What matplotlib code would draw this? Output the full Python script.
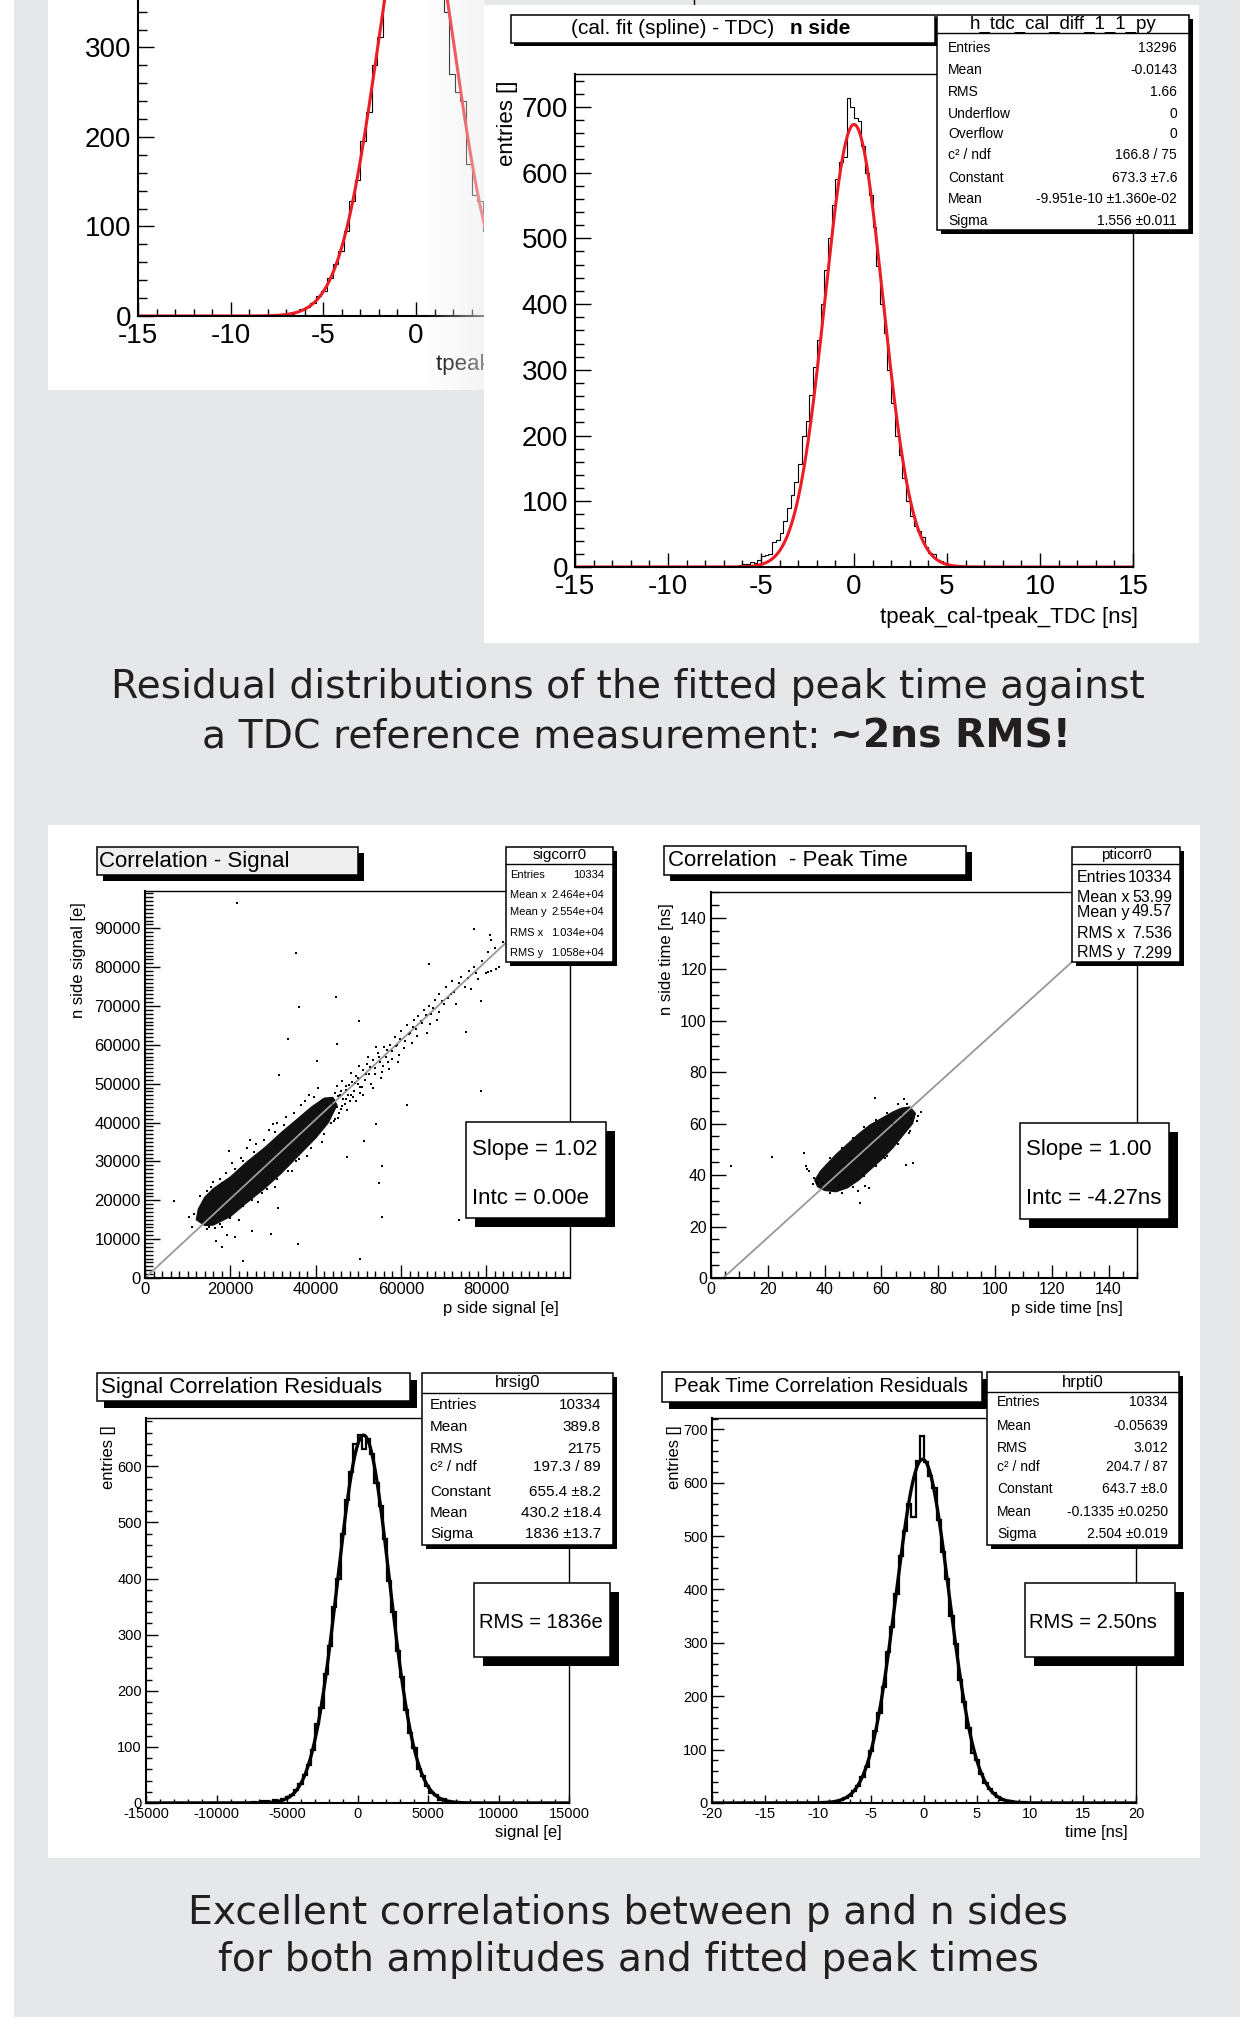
import numpy as np
import matplotlib
matplotlib.use("Agg")
import matplotlib.pyplot as plt
from matplotlib.patches import Rectangle
from matplotlib.ticker import MultipleLocator, FormatStrFormatter

W, H = 1250, 2034
GREY = "#e6e7e8"
INK = "#231f20"
RED = "#ec1c24"

plt.rcParams["font.family"] = ["Liberation Sans", "DejaVu Sans"]
plt.rcParams["axes.unicode_minus"] = False

# ---------------------------------------------------------------- data ---
# p side tpeak residual (mostly hidden behind the n side panel)
p_side_lo, p_side_bw = -7.5, 0.3
p_side_counts = [1, 2, 2, 5, 8, 10, 14, 22, 28, 42, 58, 73, 95, 128, 152,
                 195, 228, 280, 312, 365, 400, 440, 470, 490, 500, 488, 470,
                 440, 400, 370, 340, 270, 250, 240, 170, 135, 128, 95]
p_side_fit = (492.0, 0.0, 2.08)          # constant, mean, sigma (box hidden)

# n side: (cal. fit (spline) - TDC)
tdc_lo, tdc_bw = -7.0, 0.2
tdc_counts = [0, 1, 2, 1, 3, 5, 4, 7, 6, 10,
              16, 18, 20, 38, 41, 52, 70, 90, 110, 130,
              156, 200, 222, 262, 305, 345, 400, 452, 500, 550,
              590, 616, 624, 713, 700, 683, 678, 640, 600, 566,
              517, 458, 400, 356, 300, 250, 200, 170, 135, 100,
              78, 62, 55, 45, 30, 22, 20, 11, 9, 4,
              3, 2, 1, 1, 0, 1, 0, 0, 0, 0]
tdc_fit = (673.3, -9.951e-10, 1.556)
tdc_stats = [("Entries", "13296"), ("Mean", "-0.0143"), ("RMS", "1.66"),
             ("Underflow", "0"), ("Overflow", "0"), ("c² / ndf", "166.8 / 75"),
             ("Constant", "673.3 ±7.6"), ("Mean", "-9.951e-10 ±1.360e-02"),
             ("Sigma", "1.556 ±0.011")]

# signal correlation (values in 1000 e)
sig_core_x = [12.0, 12.5, 14.0, 16.0, 20.0, 24.0, 28.0, 32.0, 36.0, 39.0, 42.0,
              44.0, 45.0, 43.0, 40.0, 36.0, 32.0, 28.0, 24.0, 20.0, 16.0, 14.0]
sig_core_y = [15.0, 17.8, 20.8, 23.0, 26.0, 30.0, 33.5, 37.5, 41.2, 44.0, 46.3,
              46.5, 44.5, 40.0, 36.0, 31.5, 27.0, 23.0, 19.5, 15.8, 13.6, 13.5]
sig_fringe = [(13.0, 21.0), (15.5, 23.5), (11.5, 16.5), (18.0, 13.2), (22.0, 14.8),
              (26.5, 19.5), (30.5, 23.5), (34.5, 27.5), (38.0, 31.5), (41.5, 35.0),
              (19.0, 27.0), (22.5, 31.0), (26.0, 34.5), (29.0, 38.0), (33.0, 41.5),
              (36.5, 44.5), (38.5, 47.0), (46.0, 43.5), (45.0, 49.5), (47.0, 46.0),
              (16.5, 12.8), (14.5, 12.5), (24.0, 33.5), (27.5, 22.0), (35.5, 30.0),
              (40.5, 49.0), (43.5, 40.0), (31.0, 40.0), (20.5, 29.5), (17.5, 25.5),
              (14.5, 22.5), (16.0, 24.8), (18.0, 24.5), (21.0, 28.0), (23.0, 30.0),
              (25.5, 32.5), (28.0, 35.5), (30.5, 37.5), (32.5, 39.5), (35.0, 42.5),
              (37.5, 45.5), (39.5, 46.5), (15.0, 13.0), (17.5, 14.0), (20.0, 15.5),
              (23.0, 18.5), (25.0, 20.0), (28.5, 23.0), (31.0, 25.5), (33.5, 27.5),
              (36.0, 30.5), (39.0, 33.5), (42.0, 37.0), (44.5, 41.0), (41.5, 45.5),
              (42.5, 42.0), (43.8, 44.8), (44.2, 40.5), (45.3, 46.8), (46.2, 44.2),
              (47.2, 48.3), (48.3, 47.2), (49.2, 50.2), (50.3, 49.1)]
sig_band = [(41, 43), (42, 40), (42.5, 44.5), (43, 41.5), (43.5, 46), (44, 43),
            (44.5, 47.5), (45, 44), (45.5, 42.5), (46, 48), (46.5, 46), (47, 49.5),
            (47.5, 47), (48, 45.5), (48.5, 50.5), (49, 48), (49.5, 52), (50, 50),
            (50.5, 47.5), (51, 53.5), (51.5, 51), (52, 55), (52.5, 52.5), (53, 50),
            (53.5, 56), (54, 54), (54.5, 58), (55, 55.5), (55.5, 53), (56, 59.5),
            (56.5, 57), (57, 55.5), (57.5, 60), (58, 58.5), (58.5, 62), (59, 60),
            (59.5, 57.5), (60, 63.5), (61, 61), (61.5, 65), (62, 63), (62.5, 60.5),
            (63, 66.5), (63.5, 64), (64, 67.5), (65, 65.5), (65.5, 69), (66, 63),
            (66.5, 70), (67, 68), (68, 71.5), (68.5, 66.5), (69, 73), (70, 70.5),
            (70.5, 75), (71, 72), (72, 76.5), (72.5, 73.5), (73, 70.5), (74, 77.5),
            (75, 75), (76, 79), (76.5, 74.5), (77, 80), (78, 77), (79, 81.5),
            (80, 78.5), (80.5, 84), (81, 87), (82, 85), (83, 80), (84, 86.5),
            (85, 84), (80.3, 78.7), (81.1, 78.9), (82.3, 79.4),
            (44.2, 45.8), (45.8, 47.2), (46.8, 44.8), (47.8, 49.8), (48.8, 46.6),
            (49.8, 51.4), (50.8, 49.2), (51.8, 52.6), (52.8, 54.2), (53.8, 52.4),
            (54.8, 56.8), (55.8, 54.6), (56.8, 58.6), (57.8, 56.4), (58.8, 59.8),
            (59.8, 61.6), (60.6, 59.2), (61.8, 62.8), (62.8, 64.6), (63.8, 62.4),
            (64.6, 66.2), (65.8, 67.6), (66.8, 65.4), (67.6, 69.6), (68.8, 68.4),
            (69.6, 71.2), (71.6, 73.2), (73.6, 75.8), (75.6, 77.2), (77.6, 78.4),
            (45.2, 41.2), (47.4, 43.2), (49.4, 45.6), (51.2, 47.0), (53.4, 49.0),
            (55.2, 51.6), (57.2, 53.8), (59.2, 55.6), (46.2, 50.6), (48.2, 52.8),
            (50.2, 54.6), (52.2, 57.0), (54.2, 59.4)]
sig_outliers = [(21.6, 96.4), (35.3, 83.7), (44.7, 72.4), (36.2, 69.7), (50.1, 66.2),
                (33.5, 61.5), (44.9, 60.3), (66.5, 80.7), (75.3, 63.3), (31.5, 52.3),
                (78.8, 48.2), (61.3, 44.4), (54.1, 39.7), (51.4, 35.2), (55.5, 28.9),
                (54.8, 24.4), (47.4, 31.1), (55.5, 15.6), (73.6, 15.0), (50.3, 4.8),
                (22.9, 4.4), (35.9, 8.7), (29.5, 11.3), (25.0, 12.2), (21.0, 10.5),
                (19.1, 11.1), (16.7, 9.4), (18.0, 7.9), (6.8, 19.9), (10.4, 15.8),
                (11.0, 13.1), (19.6, 32.6), (24.7, 35.6), (29.9, 39.7), (31.2, 18.0),
                (40.4, 55.8), (77.1, 89.7), (80.8, 88.4), (78.8, 71.4)]
sig_line = (1.02, 0.0)
sig_stats = [("Entries", "10334"), ("Mean x", "2.464e+04"), ("Mean y", "2.554e+04"),
             ("RMS x", "1.034e+04"), ("RMS y", "1.058e+04")]

# peak time correlation (ns)
pt_core_x = [36.5, 38.5, 41, 44, 48, 52, 56, 60, 64, 67, 70,
             72, 71, 68, 64, 60, 56, 52, 48, 44, 40, 37.5]
pt_core_y = [38, 41.5, 44.5, 48, 52, 56, 59.5, 62, 64.5, 66, 66.5,
             64, 60, 56, 50.5, 46, 42, 38, 35, 33.5, 34, 35.5]
pt_fringe = [(36, 36.5), (38, 39), (39.5, 37), (42, 46.5), (46, 50.5), (50, 54.5),
             (54, 58.5), (58, 61.5), (62, 64), (66, 67.5), (69, 67.5), (72.5, 61),
             (70, 57), (66, 52), (62, 47.5), (58, 43.5), (54, 39.5), (50, 35.5),
             (46, 33), (42, 33), (45, 36), (60, 58), (47, 44), (64, 60), (39, 35),
             (73, 63), (67, 63.5), (41, 38.5)]
pt_outliers = [(6.9, 43.4), (21.4, 46.9), (32.6, 48.4), (33.4, 43.4), (33.8, 42.2),
               (34.5, 41.6), (57.7, 70.1), (67.8, 69.4), (73.9, 64.5), (71.2, 44.7),
               (68.7, 44.1), (52.3, 29.1), (51.7, 33.7), (54.4, 35.6), (55.7, 35.0),
               (69.8, 56.4), (61.1, 46.7), (70.5, 61.6), (36.4, 38.9), (37.2, 37.0)]
pt_line = (1.00, -4.27)
pt_stats = [("Entries", "10334"), ("Mean x", "53.99"), ("Mean y", "49.57"),
            ("RMS x", "7.536"), ("RMS y", "7.299")]

# residuals
rsig_lo, rsig_bw = -7500, 300
rsig_counts = [1, 0, 4, 3, 2, 5, 3, 8, 10, 15,
               24, 34, 50, 68, 95, 140, 170, 230, 280, 350,
               400, 480, 540, 590, 640, 655, 630, 648, 622, 570,
               530, 470, 395, 340, 270, 225, 165, 125, 98, 60,
               48, 30, 18, 14, 6, 8, 3, 2, 1, 0]
rsig_fit = (655.4, 430.2, 1836.0)
rsig_stats = [("Entries", "10334"), ("Mean", "389.8"), ("RMS", "2175"),
              ("c² / ndf", "197.3 / 89"), ("Constant", "655.4 ±8.2"),
              ("Mean", "430.2 ±18.4"), ("Sigma", "1836 ±13.7")]

rpt_lo, rpt_bw = -10.0, 0.4
rpt_counts = [0, 1, 2, 1, 3, 6, 9, 14, 22, 32,
              48, 68, 98, 135, 168, 218, 282, 330, 392, 462,
              510, 560, 536, 640, 687, 639, 612, 590, 530, 470,
              420, 350, 298, 230, 190, 140, 93, 80, 55, 38,
              26, 18, 12, 6, 4, 3, 2, 1, 1, 0]
rpt_fit = (643.7, -0.1335, 2.504)
rpt_stats = [("Entries", "10334"), ("Mean", "-0.05639"), ("RMS", "3.012"),
             ("c² / ndf", "204.7 / 87"), ("Constant", "643.7 ±8.0"),
             ("Mean", "-0.1335 ±0.0250"), ("Sigma", "2.504 ±0.019")]


# ------------------------------------------------------------- helpers ---
fig = plt.figure(figsize=(W / 100, H / 100), dpi=100)
fig.patch.set_facecolor("white")


def px_axes(x0, y0, x1, y1, z):
    return fig.add_axes([x0 / W, 1 - y1 / H, (x1 - x0) / W, (y1 - y0) / H], zorder=z)


def gauss(x, c, m, s):
    return c * np.exp(-0.5 * ((x - m) / s) ** 2)


def edges(lo, bw, counts):
    return lo + bw * np.arange(len(counts) + 1)


def root_axis(ax, xlim, ylim, xt, yt, fs, xlen, ylen, pad=3):
    ax.set_xlim(*xlim)
    ax.set_ylim(*ylim)
    ax.set_facecolor("none")
    ax.xaxis.set_major_locator(MultipleLocator(xt[0]))
    ax.xaxis.set_minor_locator(MultipleLocator(xt[1]))
    ax.yaxis.set_major_locator(MultipleLocator(yt[0]))
    ax.yaxis.set_minor_locator(MultipleLocator(yt[1]))
    ax.xaxis.set_major_formatter(FormatStrFormatter("%g"))
    ax.yaxis.set_major_formatter(FormatStrFormatter("%g"))
    ax.tick_params(which="both", direction="in", top=False, right=False, width=1.0,
                   colors="black")
    ax.tick_params(axis="x", which="major", length=xlen / 1.389, labelsize=fs, pad=pad)
    ax.tick_params(axis="x", which="minor", length=xlen / 2.6)
    ax.tick_params(axis="y", which="major", length=ylen / 1.389, labelsize=fs, pad=pad)
    ax.tick_params(axis="y", which="minor", length=ylen / 2.6)
    for s in ("left", "bottom"):
        ax.spines[s].set_linewidth(1.5)
    for s in ("top", "right"):
        ax.spines[s].set_linewidth(1.0)


bg = px_axes(0, 0, W, H, 0)
bg.set_xlim(0, W)
bg.set_ylim(H, 0)
bg.axis("off")
bg.add_patch(Rectangle((14, 0), 1226, 2017, fc=GREY, ec="none"))
bg.add_patch(Rectangle((48, 0), 436, 390, fc="white", ec="none"))
bg.add_patch(Rectangle((48, 825), 1152, 1033, fc="white", ec="none"))

fg = px_axes(0, 0, W, H, 10)
fg.set_xlim(0, W)
fg.set_ylim(H, 0)
fg.axis("off")


def pave(x0, y0, x1, y1, shadow=4, fc="white"):
    fg.add_patch(Rectangle((x0 + shadow, y0 + shadow), x1 - x0, y1 - y0, fc="black", ec="none"))
    fg.add_patch(Rectangle((x0, y0), x1 - x0, y1 - y0, fc=fc, ec="black", lw=1.1))


def stats_box(box, head_h, name, rows, ys, lx, rx, fs_head, fs):
    x0, y0, x1, y1 = box
    pave(x0, y0, x1, y1, 4)
    fg.plot([x0, x1], [y0 + head_h] * 2, color="black", lw=1.0)
    fg.text((x0 + x1) / 2, y0 + head_h / 2, name, ha="center", va="center", fontsize=fs_head)
    for (lab, val), y in zip(rows, ys):
        fg.text(lx, y, lab, ha="left", va="center", fontsize=fs)
        fg.text(rx, y, val, ha="right", va="center", fontsize=fs)


def ylabel(x, ytop, s, fs):
    fg.text(x, ytop, s, rotation=90, ha="center", va="top", fontsize=fs)


def xlabel(xr, y, s, fs):
    fg.text(xr, y, s, ha="right", va="center", fontsize=fs)


# ------------------------------------------------- top-left (p side) ---
ax = px_axes(138, 0, 694, 316, 1)
root_axis(ax, (-15, 15), (0, 353), (5, 1), (100, 20), 20, 14, 16, pad=5)
ax.spines["top"].set_visible(False)
ax.stairs(p_side_counts, edges(p_side_lo, p_side_bw, p_side_counts), color="black", lw=0.8)
xf = np.linspace(-15, 15, 600)
ax.plot(xf, gauss(xf, *p_side_fit), color=RED, lw=2.2)
ax.text(1.0, -0.155, "tpeak_cal-tpeak_TDC [ns]", transform=ax.transAxes, ha="right",
        va="center", fontsize=16)

# fade at the edge of the overlapping panel
fade = px_axes(423, 0, 485, 390, 1.5)
grad = np.zeros((2, 64, 4))
grad[..., :3] = 0.93
grad[..., 3] = np.linspace(0.0, 0.6, 64)
fade.imshow(grad, aspect="auto", interpolation="bilinear")
fade.axis("off")

# --------------------------------------------------- top-right (n side) ---
panel = px_axes(484, 5, 1199, 643, 2)
panel.set_facecolor("white")
panel.set_xticks([])
panel.set_yticks([])
for s in panel.spines.values():
    s.set_visible(False)

ax = px_axes(575, 74, 1133, 567, 3)
root_axis(ax, (-15, 15), (0, 750), (5, 1), (100, 20), 20, 14, 16, pad=5)
ax.stairs(tdc_counts, edges(tdc_lo, tdc_bw, tdc_counts), color="black", lw=0.8)
ax.plot(xf, gauss(xf, *tdc_fit), color=RED, lw=2.2)
ylabel(508, 80, "entries []", 16)
xlabel(1138, 617, "tpeak_cal-tpeak_TDC [ns]", 16)

pave(511, 15, 935, 43, 3)
fg.text(774, 29, "(cal. fit (spline) - TDC)", ha="right", va="center", fontsize=15)
fg.text(790, 29, "n side", ha="left", va="center", fontsize=15, fontweight="bold")
stats_box((937, 15, 1189, 230), 18, "h_tdc_cal_diff_1_1_py", tdc_stats,
          [48, 70, 92, 114, 134, 155, 178, 199, 221], 948, 1177, 13.5, 10)

# ------------------------------------------------------ captions ---
CAP = 28.3
fg.text(628, 687, "Residual distributions of the fitted peak time against", ha="center",
        va="center", fontsize=CAP, color=INK, family="DejaVu Sans")
fg.text(820, 737, "a TDC reference measurement:", ha="right", va="center", fontsize=CAP,
        color=INK, family="DejaVu Sans")
fg.text(830, 737, "~2ns RMS!", ha="left", va="center", fontsize=CAP, color=INK,
        family="DejaVu Sans", fontweight="bold")
fg.text(628, 1913, "Excellent correlations between p and n sides", ha="center",
        va="center", fontsize=CAP, color=INK, family="DejaVu Sans")
fg.text(628, 1960, "for both amplitudes and fitted peak times", ha="center",
        va="center", fontsize=CAP, color=INK, family="DejaVu Sans")

# -------------------------------------------- signal correlation ---
ax = px_axes(145, 891, 570, 1278, 3)
root_axis(ax, (0, 99600), (0, 99600), (20000, 2000), (10000, 1000), 12, 13, 15)
xl = np.array([0, 100000])
ax.plot(xl, sig_line[0] * xl + sig_line[1], color="#9a9a9a", lw=1.2)
ax.fill(np.array(sig_core_x) * 1000, np.array(sig_core_y) * 1000, color="#111111", lw=0.8)
for pts in (sig_fringe, sig_band, sig_outliers):
    px, py = np.array(pts).T * 1000
    ax.plot(px, py, ls="none", marker="s", ms=1.8, mew=0, color="black")
ax.plot(xl, sig_line[0] * xl + sig_line[1], color="#9a9a9a", lw=1.0, alpha=0.8)
ylabel(78, 902, "n side signal [e]", 12)
xlabel(559, 1308, "p side signal [e]", 12)
pave(97, 847, 358, 875, 6, fc="#efefef")
fg.text(99, 861, "Correlation - Signal", ha="left", va="center", fontsize=16)
stats_box((506, 847, 613, 962), 17, "sigcorr0", sig_stats,
          [875, 895, 912, 933, 953], 510, 604, 11, 8)
pave(466, 1122, 606, 1218, 9)
fg.text(472, 1150, "Slope = 1.02", ha="left", va="center", fontsize=16)
fg.text(472, 1198, "Intc = 0.00e", ha="left", va="center", fontsize=16)

# ----------------------------------------- peak time correlation ---
ax = px_axes(711, 892, 1137, 1278, 3)
root_axis(ax, (0, 150), (0, 150), (20, 5), (20, 5), 11.5, 13, 15)
xl = np.array([0, 150])
ax.plot(xl, pt_line[0] * xl + pt_line[1], color="#9a9a9a", lw=1.2)
ax.fill(pt_core_x, pt_core_y, color="#111111", lw=0.8)
for pts in (pt_fringe, pt_outliers):
    px, py = np.array(pts).T
    ax.plot(px, py, ls="none", marker="s", ms=1.8, mew=0, color="black")
ax.plot(xl, pt_line[0] * xl + pt_line[1], color="#9a9a9a", lw=1.0, alpha=0.8)
ylabel(667, 903, "n side time [ns]", 12)
xlabel(1123, 1308, "p side time [ns]", 12)
pave(664, 846, 966, 875, 6)
fg.text(668, 861, "Correlation  - Peak Time", ha="left", va="center", fontsize=16)
stats_box((1072, 847, 1180, 962), 17, "pticorr0", pt_stats,
          [877, 897, 912, 934, 953], 1077, 1172, 11, 11.5)
pave(1020, 1123, 1169, 1219, 9)
fg.text(1026, 1150, "Slope = 1.00", ha="left", va="center", fontsize=16)
fg.text(1026, 1198, "Intc = -4.27ns", ha="left", va="center", fontsize=16)

# ------------------------------------------ signal residuals ---
ax = px_axes(146, 1418, 569, 1803, 3)
root_axis(ax, (-15000, 15000), (0, 686), (5000, 1000), (100, 20), 10.5, 8, 12)
ax.stairs(rsig_counts, edges(rsig_lo, rsig_bw, rsig_counts), color="black", lw=1.6)
xf2 = np.linspace(-15000, 15000, 800)
ax.plot(xf2, gauss(xf2, *rsig_fit), color="black", lw=2.4)
ylabel(109, 1425, "entries []", 12)
xlabel(562, 1833, "signal [e]", 12)
pave(97, 1373, 410, 1401, 7)
fg.text(101, 1387, "Signal Correlation Residuals", ha="left", va="center", fontsize=16)
stats_box((422, 1373, 613, 1545), 20, "hrsig0", rsig_stats,
          [1405, 1427, 1449, 1467, 1492, 1513, 1534], 430, 601, 12, 11)
pave(474, 1583, 610, 1657, 9)
fg.text(479, 1623, "RMS = 1836e", ha="left", va="center", fontsize=14.5)

# --------------------------------------- peak time residuals ---
ax = px_axes(712, 1418, 1136, 1803, 3)
root_axis(ax, (-20, 20), (0, 721), (5, 1), (100, 20), 10.5, 8, 12)
ax.stairs(rpt_counts, edges(rpt_lo, rpt_bw, rpt_counts), color="black", lw=1.6)
xf3 = np.linspace(-20, 20, 800)
ax.plot(xf3, gauss(xf3, *rpt_fit), color="black", lw=2.4)
ylabel(674, 1425, "entries []", 12)
xlabel(1128, 1833, "time [ns]", 12)
pave(662, 1372, 982, 1402, 7)
fg.text(674, 1387, "Peak Time Correlation Residuals", ha="left", va="center", fontsize=14.5)
stats_box((987, 1372, 1179, 1545), 20, "hrpti0", rpt_stats,
          [1402, 1426, 1448, 1467, 1489, 1512, 1534], 997, 1168, 12, 10)
pave(1025, 1583, 1175, 1657, 9)
fg.text(1029, 1623, "RMS = 2.50ns", ha="left", va="center", fontsize=14.5)

fig.savefig("out.png", dpi=100)
